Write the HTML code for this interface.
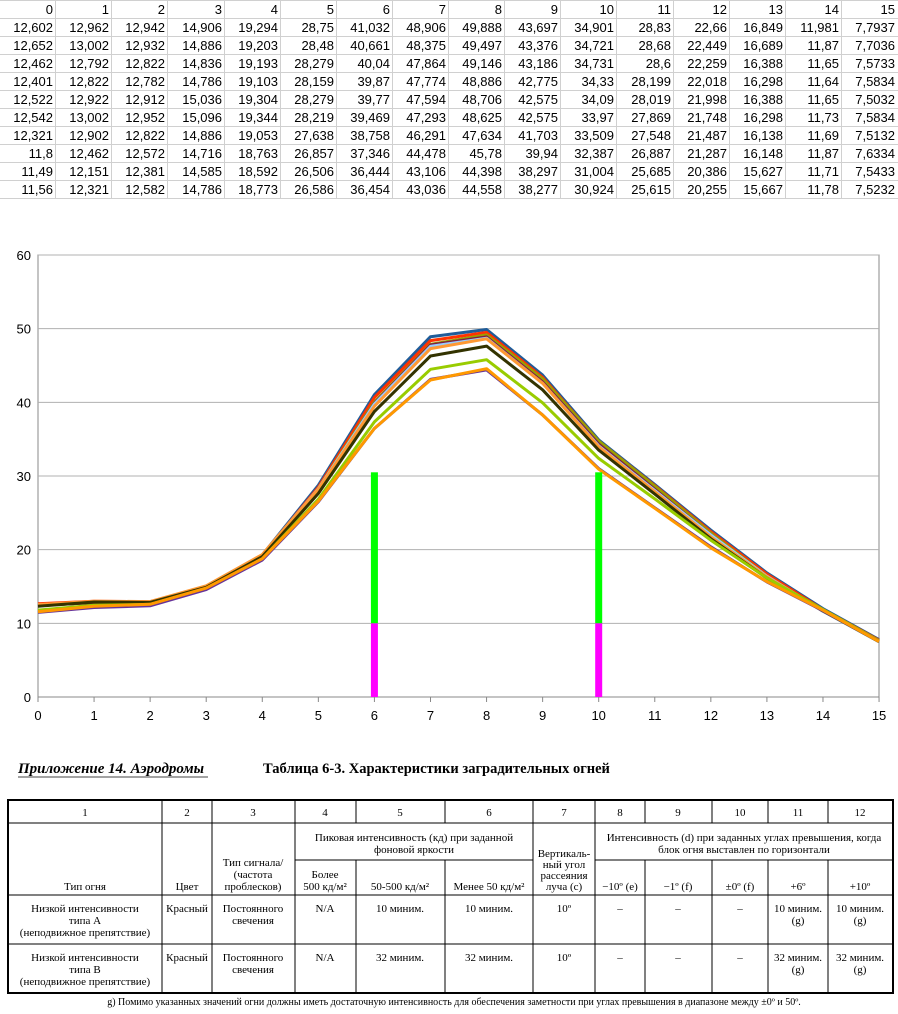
<!DOCTYPE html>
<html><head><meta charset="utf-8"><style>
body{margin:0;background:#fff;width:898px;height:1014px;overflow:hidden}
svg{display:block}
.t{font-family:"Liberation Sans",Arial,sans-serif;font-size:13px;fill:#000}
.s{font-family:"Liberation Serif","Noto Serif CJK SC",serif;font-size:11px;fill:#000}
</style></head><body>
<svg id="sv" width="898" height="1014" xmlns="http://www.w3.org/2000/svg">
<g id="top"></g>
<g id="chart"></g>
<text x="18" y="773" style="font-family:'Liberation Serif',serif;font-size:15px;font-weight:bold;font-style:italic">Приложение 14.  Аэродромы</text>
<line x1="18" y1="777" x2="208" y2="777" stroke="#444" stroke-width="1"/>
<text x="263" y="773" style="font-family:'Liberation Serif',serif;font-size:14.5px;font-weight:bold">Таблица 6-3.    Характеристики заградительных огней</text>
<g id="bt" fill="none" stroke="#000">
<rect x="8" y="800" width="885" height="193" stroke-width="2"/>
<line x1="8" y1="823" x2="893" y2="823"/>
<line x1="8" y1="895" x2="893" y2="895"/>
<line x1="8" y1="944" x2="893" y2="944"/>
<line x1="295" y1="860" x2="533" y2="860"/>
<line x1="595" y1="860" x2="893" y2="860"/>
<line x1="162" y1="800" x2="162" y2="993"/>
<line x1="212" y1="800" x2="212" y2="993"/>
<line x1="295" y1="800" x2="295" y2="993"/>
<line x1="356" y1="800" x2="356" y2="823"/><line x1="356" y1="860" x2="356" y2="993"/>
<line x1="445" y1="800" x2="445" y2="823"/><line x1="445" y1="860" x2="445" y2="993"/>
<line x1="533" y1="800" x2="533" y2="993"/>
<line x1="595" y1="800" x2="595" y2="993"/>
<line x1="645" y1="800" x2="645" y2="823"/><line x1="645" y1="860" x2="645" y2="993"/>
<line x1="712" y1="800" x2="712" y2="823"/><line x1="712" y1="860" x2="712" y2="993"/>
<line x1="768" y1="800" x2="768" y2="823"/><line x1="768" y1="860" x2="768" y2="993"/>
<line x1="828" y1="800" x2="828" y2="823"/><line x1="828" y1="860" x2="828" y2="993"/>
</g>
<g class="s" text-anchor="middle" id="btx">
<text x="85" y="816">1</text><text x="187" y="816">2</text><text x="253" y="816">3</text><text x="325" y="816">4</text><text x="400" y="816">5</text><text x="489" y="816">6</text><text x="564" y="816">7</text><text x="620" y="816">8</text><text x="678" y="816">9</text><text x="740" y="816">10</text><text x="798" y="816">11</text><text x="860" y="816">12</text>
<text x="414" y="841">Пиковая интенсивность (кд) при заданной</text><text x="414" y="853">фоновой яркости</text>
<text x="744" y="841">Интенсивность (d) при заданных углах превышения, когда</text><text x="744" y="853">блок огня выставлен по горизонтали</text>
<text x="85" y="890">Тип огня</text><text x="187" y="890">Цвет</text>
<text x="253" y="866">Тип сигнала/</text><text x="253" y="878">(частота</text><text x="253" y="890">проблесков)</text>
<text x="325" y="878">Более</text><text x="325" y="890">500 кд/м²</text>
<text x="400" y="890">50-500 кд/м²</text><text x="489" y="890">Менее 50 кд/м²</text>
<text x="564" y="857">Вертикаль-</text><text x="564" y="868">ный угол</text><text x="564" y="879">рассеяния</text><text x="564" y="890">луча (c)</text>
<text x="620" y="890">−10º (e)</text><text x="678" y="890">−1º (f)</text><text x="740" y="890">±0º (f)</text><text x="798" y="890">+6º</text><text x="860" y="890">+10º</text>
<text x="85" y="912">Низкой интенсивности</text><text x="85" y="924">типа A</text><text x="85" y="936">(неподвижное препятствие)</text>
<text x="187" y="912">Красный</text><text x="253" y="912">Постоянного</text><text x="253" y="924">свечения</text>
<text x="325" y="912">N/A</text><text x="400" y="912">10 миним.</text><text x="489" y="912">10 миним.</text><text x="564" y="912">10º</text>
<text x="620" y="912">–</text><text x="678" y="912">–</text><text x="740" y="912">–</text>
<text x="798" y="912">10 миним.</text><text x="798" y="924">(g)</text><text x="860" y="912">10 миним.</text><text x="860" y="924">(g)</text>
<text x="85" y="961">Низкой интенсивности</text><text x="85" y="973">типа B</text><text x="85" y="985">(неподвижное препятствие)</text>
<text x="187" y="961">Красный</text><text x="253" y="961">Постоянного</text><text x="253" y="973">свечения</text>
<text x="325" y="961">N/A</text><text x="400" y="961">32 миним.</text><text x="489" y="961">32 миним.</text><text x="564" y="961">10º</text>
<text x="620" y="961">–</text><text x="678" y="961">–</text><text x="740" y="961">–</text>
<text x="798" y="961">32 миним.</text><text x="798" y="973">(g)</text><text x="860" y="961">32 миним.</text><text x="860" y="973">(g)</text>
<text x="454" y="1005" style="font-size:10px">g)   Помимо указанных значений огни должны иметь достаточную интенсивность для обеспечения заметности при углах превышения в диапазоне между ±0º и 50º.</text>
</g>
</svg>
<script>
var D=[
[12.602,12.962,12.942,14.906,19.294,28.75,41.032,48.906,49.888,43.697,34.901,28.83,22.66,16.849,11.981,7.7937],
[12.652,13.002,12.932,14.886,19.203,28.48,40.661,48.375,49.497,43.376,34.721,28.68,22.449,16.689,11.87,7.7036],
[12.462,12.792,12.822,14.836,19.193,28.279,40.04,47.864,49.146,43.186,34.731,28.6,22.259,16.388,11.65,7.5733],
[12.401,12.822,12.782,14.786,19.103,28.159,39.87,47.774,48.886,42.775,34.33,28.199,22.018,16.298,11.64,7.5834],
[12.522,12.922,12.912,15.036,19.304,28.279,39.77,47.594,48.706,42.575,34.09,28.019,21.998,16.388,11.65,7.5032],
[12.542,13.002,12.952,15.096,19.344,28.219,39.469,47.293,48.625,42.575,33.97,27.869,21.748,16.298,11.73,7.5834],
[12.321,12.902,12.822,14.886,19.053,27.638,38.758,46.291,47.634,41.703,33.509,27.548,21.487,16.138,11.69,7.5132],
[11.8,12.462,12.572,14.716,18.763,26.857,37.346,44.478,45.78,39.94,32.387,26.887,21.287,16.148,11.87,7.6334],
[11.49,12.151,12.381,14.585,18.592,26.506,36.444,43.106,44.398,38.297,31.004,25.685,20.386,15.627,11.71,7.5433],
[11.56,12.321,12.582,14.786,18.773,26.586,36.454,43.036,44.558,38.277,30.924,25.615,20.255,15.667,11.78,7.5232]];
var h="";
var cw=898/16;
for(var r=0;r<=11;r++)h+='<line x1="0" x2="898" y1="'+(r*18+0.5)+'" y2="'+(r*18+0.5)+'" stroke="#d0d0d0"/>';
for(var c=1;c<16;c++)h+='<line y1="0" y2="198" x1="'+(Math.round(c*cw)-0.5)+'" x2="'+(Math.round(c*cw)-0.5)+'" stroke="#d0d0d0"/>';
for(var c=0;c<16;c++){var x=Math.round((c+1)*cw)-3;
h+='<text class="t" text-anchor="end" x="'+x+'" y="14">'+c+'</text>';
for(var r=0;r<10;r++)h+='<text class="t" text-anchor="end" x="'+x+'" y="'+(18*(r+1)+14)+'">'+String(D[r][c]).replace('.',',')+'</text>';}
document.getElementById('top').innerHTML=h;
var X=function(i){return 38+i*56.07},Y=function(v){return 697-v*7.367};
h='<rect x="38" y="255" width="841" height="442" fill="none" stroke="#888"/>';
for(var k=1;k<=6;k++)h+='<line x1="38" x2="879" y1="'+Y(k*10)+'" y2="'+Y(k*10)+'" stroke="#b0b0b0"/>';
for(var k=0;k<=6;k++)h+='<text class="t" text-anchor="end" x="31" y="'+(Y(k*10)+5)+'">'+(k*10)+'</text>';
for(var i=0;i<=15;i++){h+='<line x1="'+X(i)+'" x2="'+X(i)+'" y1="697" y2="702" stroke="#888"/><text class="t" text-anchor="middle" x="'+X(i)+'" y="720">'+i+'</text>';}
var col=["#1f5c99","#ff3300","#99a000","#7f1f3f","#99ccff","#ff9933","#333300","#99cc00","#663399","#ff9900"];
for(var r=0;r<10;r++){var p=D[r].map(function(v,i){return X(i).toFixed(1)+','+Y(v).toFixed(1)}).join(' ');
h+='<polyline points="'+p+'" fill="none" stroke="'+col[r]+'" stroke-width="3" stroke-linejoin="round"/>';}
[6,10].forEach(function(i){h+='<rect x="'+(X(i)-3.5)+'" y="'+Y(30.5)+'" width="7" height="'+(Y(10)-Y(30.5))+'" fill="#00ff00"/><rect x="'+(X(i)-3.5)+'" y="'+Y(10)+'" width="7" height="'+(Y(0)-Y(10))+'" fill="#ff00ff"/>';});
document.getElementById('chart').innerHTML=h;
</script>
</body></html>
